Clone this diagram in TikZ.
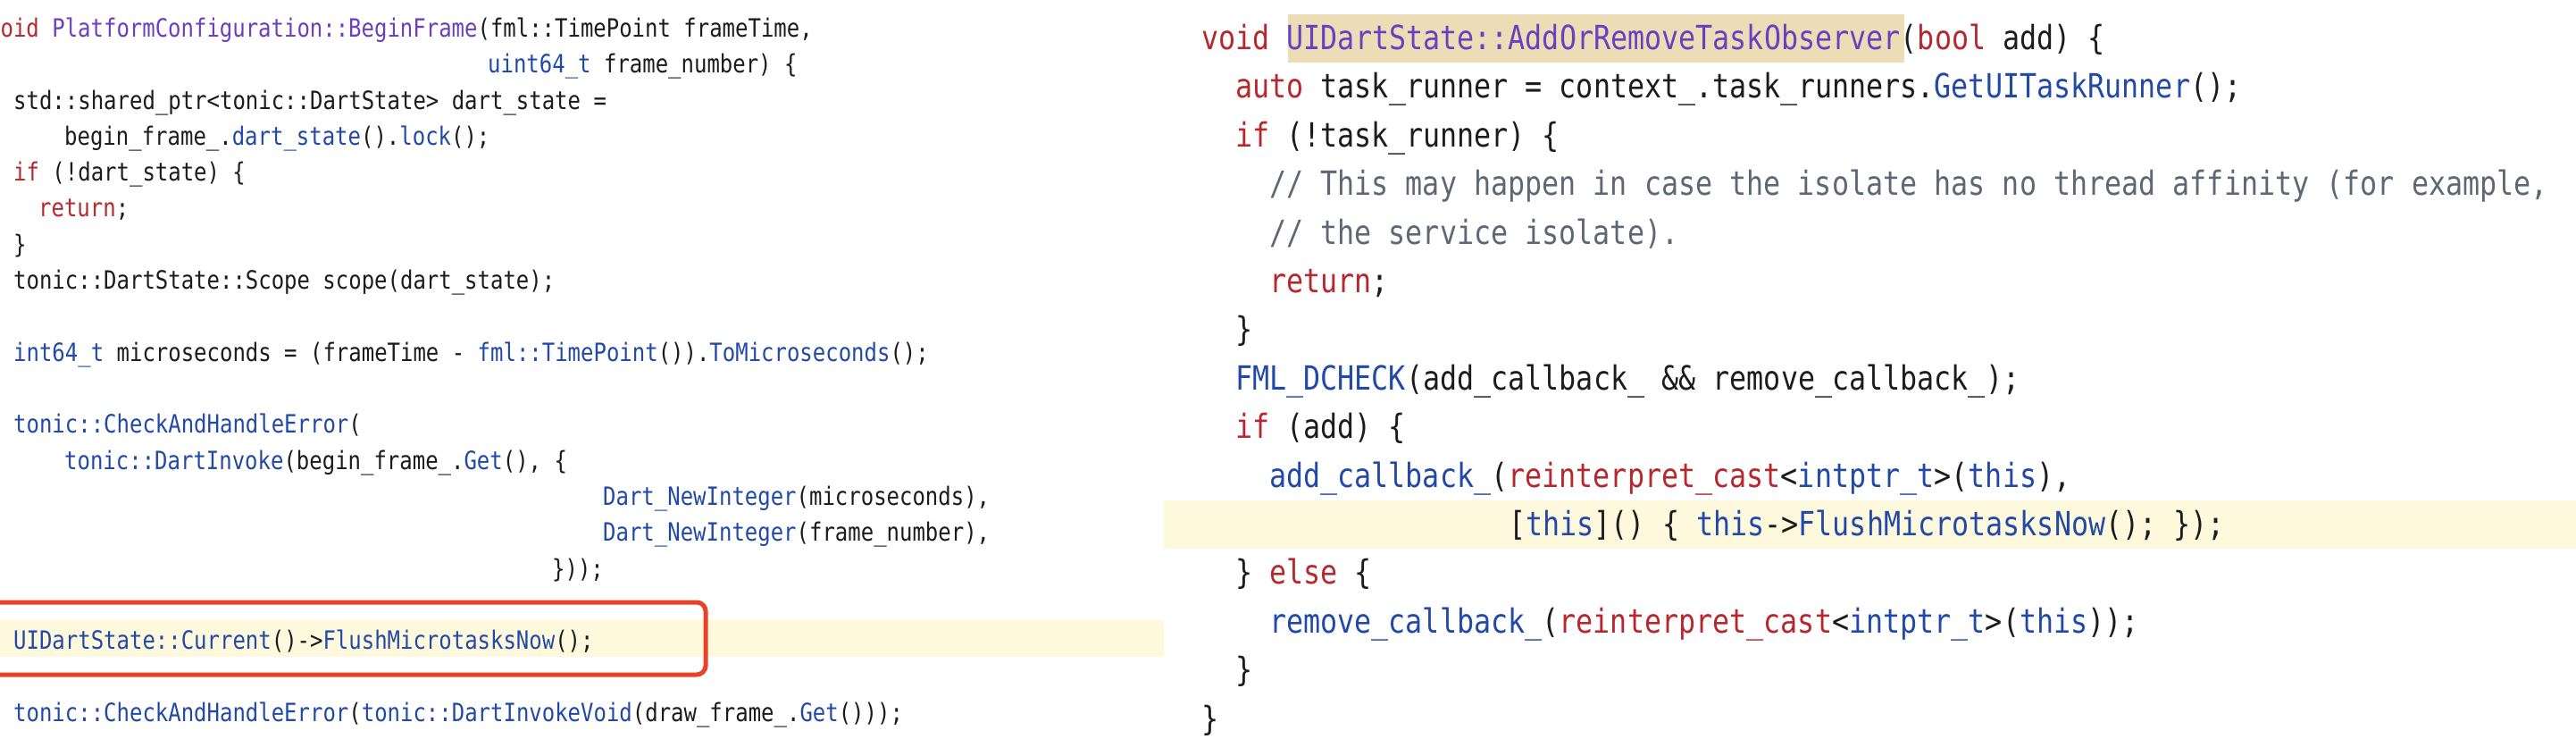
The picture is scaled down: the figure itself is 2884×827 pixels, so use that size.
\documentclass[tikz,border=0pt]{standalone}
\usepackage{fontspec}
\newfontfamily\codefont[FakeStretch=0.85]{DejaVu Sans Mono}
\definecolor{kwred}{HTML}{B7282E}
\definecolor{fnpurple}{HTML}{6B3FC0}
\definecolor{tyblue}{HTML}{2249A8}
\definecolor{cmgrey}{HTML}{5E6875}
\definecolor{txtblack}{HTML}{1C1C1C}
\definecolor{linehl}{HTML}{FEF9DC}
\definecolor{namehl}{HTML}{EDDDB6}
\definecolor{boxred}{HTML}{E8432A}
\newcommand{\kw}[1]{\textcolor{kwred}{#1}}
\newcommand{\fn}[1]{\textcolor{fnpurple}{#1}}
\newcommand{\ty}[1]{\textcolor{tyblue}{#1}}
\newcommand{\cm}[1]{\textcolor{cmgrey}{#1}}
\tikzset{
  lcode/.style={anchor=base west, inner sep=0pt, text=txtblack,
    font=\codefont\fontsize{28.2}{32}\selectfont},
  rcode/.style={anchor=base west, inner sep=0pt, text=txtblack,
    font=\codefont\fontsize{37.3}{42}\selectfont},
}
\begin{document}
\begin{tikzpicture}[x=1pt,y=-1pt]
        \clip (0,0) rectangle (2884,827);
        \fill[white] (0,0) rectangle (2884,827);

        % highlighted rows
        \fill[linehl] (0,694) rectangle (1303,735);
        \fill[linehl] (1303,560) rectangle (2884,614);
        \fill[namehl] (1442,16) rectangle (2132,70);

        % left panel
        \node[lcode] (l0) at (-14,41) {\kw{void} \fn{PlatformConfiguration::BeginFrame}(fml::TimePoint frameTime,};
        \node[lcode] (l1) at (546,81) {\ty{uint64\_t} frame\_number) \{};
        \node[lcode] (l2) at (15,122) {std::shared\_ptr<tonic::DartState> dart\_state =};
        \node[lcode] (l3) at (72,162) {begin\_frame\_.\ty{dart\_state}().\ty{lock}();};
        \node[lcode] (l4) at (15,202) {\kw{if} (!dart\_state) \{};
        \node[lcode] (l5) at (43,242) {\kw{return};};
        \node[lcode] (l6) at (15,283) {\}};
        \node[lcode] (l7) at (15,323) {tonic::DartState::Scope scope(dart\_state);};
        \node[lcode] (l9) at (15,404) {\ty{int64\_t} microseconds = (frameTime - \ty{fml::TimePoint}()).\ty{ToMicroseconds}();};
        \node[lcode] (l11) at (15,484) {\ty{tonic::CheckAndHandleError}(};
        \node[lcode] (l12) at (72,525) {\ty{tonic::DartInvoke}(begin\_frame\_.\ty{Get}(), \{};
        \node[lcode] (l13) at (675,565) {\ty{Dart\_NewInteger}(microseconds),};
        \node[lcode] (l14) at (675,605) {\ty{Dart\_NewInteger}(frame\_number),};
        \node[lcode] (l15) at (618,646) {\}));};
        \node[lcode] (l17) at (15,726) {\ty{UIDartState::Current}()->\ty{FlushMicrotasksNow}();};
        \node[lcode] (l19) at (15,807) {\ty{tonic::CheckAndHandleError}(\ty{tonic::DartInvokeVoid}(draw\_frame\_.\ty{Get}()));};

        \draw[boxred, line width=5pt, rounded corners=10pt] (-10,674) rectangle (790,755);

        % right panel
        \node[rcode] (r0) at (1345,55) {\kw{void} \fn{UIDartState::AddOrRemoveTaskObserver}(\kw{bool} add) \{};
        \node[rcode] (r1) at (1383,109) {\kw{auto} task\_runner = context\_.task\_runners.\ty{GetUITaskRunner}();};
        \node[rcode] (r2) at (1383,164) {\kw{if} (!task\_runner) \{};
        \node[rcode] (r3) at (1421,218) {\cm{// This may happen in case the isolate has no thread affinity (for example,}};
        \node[rcode] (r4) at (1421,273) {\cm{// the service isolate).}};
        \node[rcode] (r5) at (1421,327) {\kw{return};};
        \node[rcode] (r6) at (1383,381) {\}};
        \node[rcode] (r7) at (1383,436) {\ty{FML\_DCHECK}(add\_callback\_ \&\& remove\_callback\_);};
        \node[rcode] (r8) at (1383,490) {\kw{if} (add) \{};
        \node[rcode] (r9) at (1421,545) {\ty{add\_callback\_}(\kw{reinterpret\_cast}<\ty{intptr\_t}>(\ty{this}),};
        \node[rcode] (r10) at (1689,599) {[\ty{this}]() \{ \ty{this}->\ty{FlushMicrotasksNow}(); \});};
        \node[rcode] (r11) at (1383,653) {\} \kw{else} \{};
        \node[rcode] (r12) at (1421,708) {\ty{remove\_callback\_}(\kw{reinterpret\_cast}<\ty{intptr\_t}>(\ty{this}));};
        \node[rcode] (r13) at (1383,762) {\}};
        \node[rcode] (r14) at (1345,817) {\}};
    \end{tikzpicture}
\end{document}
